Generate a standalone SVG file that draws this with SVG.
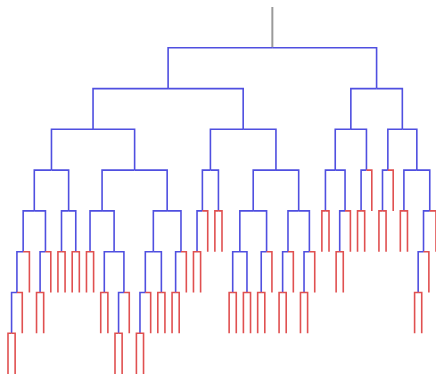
<svg xmlns="http://www.w3.org/2000/svg" width="436" height="375" viewBox="0 0 436 375">
<style>
path{fill:none;stroke-width:1.6;stroke-linecap:butt;stroke-linejoin:miter}
.b{stroke:#4f4fe0}
.r{stroke:#e05050}
.g{stroke:#9a9a9a;stroke-width:2}
</style>
<rect width="436" height="375" fill="#ffffff"/>
<g id="connectors">
<path id="stem" class="g" d="M272.35 7V47.8"/>
<g id="n-root"><path class="b" d="M272.35 47.8H168.11V88.6"/><path class="b" d="M272.35 47.8H376.59V88.6"/></g>
<g id="n-168"><path class="b" d="M168.11 88.6H93.04V129.3"/><path class="b" d="M168.11 88.6H243.18V129.3"/></g>
<g id="n-377"><path class="b" d="M376.59 88.6H350.85V129.3"/><path class="b" d="M376.59 88.6H402.34V129.3"/></g>
<g id="n-93"><path class="b" d="M93.04 129.3H51.47V170.1"/><path class="b" d="M93.04 129.3H134.62V170.1"/></g>
<g id="n-243"><path class="b" d="M243.18 129.3H210.41V170.1"/><path class="b" d="M243.18 129.3H275.95V170.1"/></g>
<g id="n-351"><path class="b" d="M350.85 129.3H335.24V170.1"/><path class="b" d="M350.85 129.3H366.45V170.1"/></g>
<g id="n-402"><path class="b" d="M402.34 129.3H387.85V170.1"/><path class="b" d="M402.34 129.3H416.83V170.1"/></g>
<g id="n-51"><path class="b" d="M51.47 170.1H34.3V210.9"/><path class="b" d="M51.47 170.1H68.63V210.9"/></g>
<g id="n-135"><path class="b" d="M134.62 170.1H102.07V210.9"/><path class="b" d="M134.62 170.1H167.16V210.9"/></g>
<g id="n-210"><path class="b" d="M210.41 170.1H202.38V210.9"/><path class="b" d="M210.41 170.1H218.43V210.9"/></g>
<g id="n-276"><path class="b" d="M275.95 170.1H253.21V210.9"/><path class="b" d="M275.95 170.1H298.68V210.9"/></g>
<g id="n-335"><path class="b" d="M335.24 170.1H325.43V210.9"/><path class="b" d="M335.24 170.1H345.05V210.9"/></g>
<g id="n-366"><path class="b" d="M366.45 170.1H361.1V210.9"/><path class="r" d="M366.45 170.1H371.8V210.9"/></g>
<g id="n-388"><path class="b" d="M387.85 170.1H382.5V210.9"/><path class="r" d="M387.85 170.1H393.2V210.9"/></g>
<g id="n-417"><path class="b" d="M416.83 170.1H403.9V210.9"/><path class="b" d="M416.83 170.1H429.76V210.9"/></g>
<g id="n-34"><path class="b" d="M34.3 210.9H23.16V251.7"/><path class="b" d="M34.3 210.9H45.45V251.7"/></g>
<g id="n-69"><path class="b" d="M68.63 210.9H61.5V251.7"/><path class="b" d="M68.63 210.9H75.77V251.7"/></g>
<g id="n-102"><path class="b" d="M102.07 210.9H90.03V251.7"/><path class="b" d="M102.07 210.9H114.11V251.7"/></g>
<g id="n-167"><path class="b" d="M167.16 210.9H153.34V251.7"/><path class="b" d="M167.16 210.9H180.98V251.7"/></g>
<g id="n-202"><path class="b" d="M202.38 210.9H197.03V251.7"/><path class="r" d="M202.38 210.9H207.73V251.7"/></g>
<g id="n-218"><path class="r" d="M218.43 210.9H214.87V251.7"/><path class="r" d="M218.43 210.9H222V251.7"/></g>
<g id="n-253"><path class="b" d="M253.21 210.9H239.83V251.7"/><path class="b" d="M253.21 210.9H266.58V251.7"/></g>
<g id="n-299"><path class="b" d="M298.68 210.9H287.98V251.7"/><path class="b" d="M298.68 210.9H309.38V251.7"/></g>
<g id="n-325"><path class="r" d="M325.43 210.9H321.87V251.7"/><path class="r" d="M325.43 210.9H329V251.7"/></g>
<g id="n-345"><path class="b" d="M345.05 210.9H339.7V251.7"/><path class="r" d="M345.05 210.9H350.4V251.7"/></g>
<g id="n-361"><path class="r" d="M361.1 210.9H357.53V251.7"/><path class="r" d="M361.1 210.9H364.67V251.7"/></g>
<g id="n-382"><path class="r" d="M382.5 210.9H378.93V251.7"/><path class="r" d="M382.5 210.9H386.07V251.7"/></g>
<g id="n-404"><path class="r" d="M403.9 210.9H400.33V251.7"/><path class="r" d="M403.9 210.9H407.47V251.7"/></g>
<g id="n-430"><path class="b" d="M429.76 210.9H423.52V251.7"/><path class="r" d="M429.76 210.9H436V251.7"/></g>
<g id="n-23"><path class="b" d="M23.16 251.7H16.92V292.5"/><path class="r" d="M23.16 251.7H29.4V292.5"/></g>
<g id="n-45"><path class="b" d="M45.45 251.7H40.1V292.5"/><path class="r" d="M45.45 251.7H50.8V292.5"/></g>
<g id="n-62"><path class="r" d="M61.5 251.7H57.93V292.5"/><path class="r" d="M61.5 251.7H65.07V292.5"/></g>
<g id="n-76"><path class="r" d="M75.77 251.7H72.2V292.5"/><path class="r" d="M75.77 251.7H79.33V292.5"/></g>
<g id="n-90"><path class="r" d="M90.03 251.7H86.47V292.5"/><path class="r" d="M90.03 251.7H93.6V292.5"/></g>
<g id="n-114"><path class="b" d="M114.11 251.7H104.3V292.5"/><path class="b" d="M114.11 251.7H123.92V292.5"/></g>
<g id="n-153"><path class="b" d="M153.34 251.7H145.32V292.5"/><path class="b" d="M153.34 251.7H161.37V292.5"/></g>
<g id="n-181"><path class="b" d="M180.98 251.7H175.63V292.5"/><path class="r" d="M180.98 251.7H186.33V292.5"/></g>
<g id="n-197"><path class="r" d="M197.03 251.7H193.47V292.5"/><path class="r" d="M197.03 251.7H200.6V292.5"/></g>
<g id="n-240"><path class="b" d="M239.83 251.7H232.7V292.5"/><path class="b" d="M239.83 251.7H246.97V292.5"/></g>
<g id="n-267"><path class="b" d="M266.58 251.7H261.23V292.5"/><path class="r" d="M266.58 251.7H271.93V292.5"/></g>
<g id="n-288"><path class="b" d="M287.98 251.7H282.63V292.5"/><path class="r" d="M287.98 251.7H293.33V292.5"/></g>
<g id="n-309"><path class="b" d="M309.38 251.7H304.03V292.5"/><path class="r" d="M309.38 251.7H314.73V292.5"/></g>
<g id="n-340"><path class="r" d="M339.7 251.7H336.13V292.5"/><path class="r" d="M339.7 251.7H343.27V292.5"/></g>
<g id="n-424"><path class="b" d="M423.52 251.7H418.17V292.5"/><path class="r" d="M423.52 251.7H428.87V292.5"/></g>
<g id="n-17"><path class="b" d="M16.92 292.5H11.57V333.2"/><path class="r" d="M16.92 292.5H22.27V333.2"/></g>
<g id="n-40"><path class="r" d="M40.1 292.5H36.53V333.2"/><path class="r" d="M40.1 292.5H43.67V333.2"/></g>
<g id="n-104"><path class="r" d="M104.3 292.5H100.73V333.2"/><path class="r" d="M104.3 292.5H107.87V333.2"/></g>
<g id="n-124"><path class="b" d="M123.92 292.5H118.57V333.2"/><path class="r" d="M123.92 292.5H129.27V333.2"/></g>
<g id="n-145"><path class="b" d="M145.32 292.5H139.97V333.2"/><path class="r" d="M145.32 292.5H150.67V333.2"/></g>
<g id="n-161"><path class="r" d="M161.37 292.5H157.8V333.2"/><path class="r" d="M161.37 292.5H164.93V333.2"/></g>
<g id="n-176"><path class="r" d="M175.63 292.5H172.07V333.2"/><path class="r" d="M175.63 292.5H179.2V333.2"/></g>
<g id="n-233"><path class="r" d="M232.7 292.5H229.13V333.2"/><path class="r" d="M232.7 292.5H236.27V333.2"/></g>
<g id="n-247"><path class="r" d="M246.97 292.5H243.4V333.2"/><path class="r" d="M246.97 292.5H250.53V333.2"/></g>
<g id="n-261"><path class="r" d="M261.23 292.5H257.67V333.2"/><path class="r" d="M261.23 292.5H264.8V333.2"/></g>
<g id="n-283"><path class="r" d="M282.63 292.5H279.07V333.2"/><path class="r" d="M282.63 292.5H286.2V333.2"/></g>
<g id="n-304"><path class="r" d="M304.03 292.5H300.47V333.2"/><path class="r" d="M304.03 292.5H307.6V333.2"/></g>
<g id="n-418"><path class="r" d="M418.17 292.5H414.6V333.2"/><path class="r" d="M418.17 292.5H421.73V333.2"/></g>
<g id="n-12"><path class="r" d="M11.57 333.2H8V374"/><path class="r" d="M11.57 333.2H15.13V374"/></g>
<g id="n-119"><path class="r" d="M118.57 333.2H115V374"/><path class="r" d="M118.57 333.2H122.13V374"/></g>
<g id="n-140"><path class="r" d="M139.97 333.2H136.4V374"/><path class="r" d="M139.97 333.2H143.53V374"/></g>
</g>
</svg>
